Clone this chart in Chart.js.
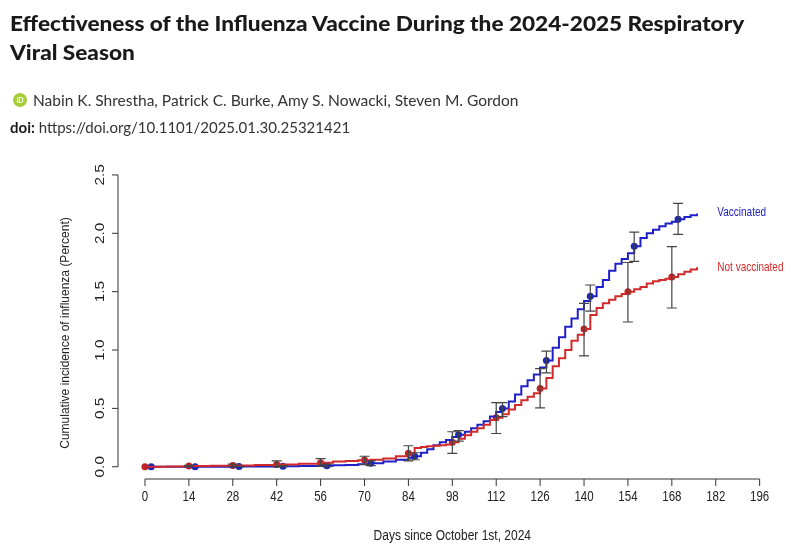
<!DOCTYPE html>
<html>
<head>
<meta charset="utf-8">
<script src="https://cdn.jsdelivr.net/npm/chart.js@4.4.1/dist/chart.umd.min.js"></script>
<style>
  body { margin: 0; width: 796px; height: 550px; overflow: hidden; position: relative; background: #fff; }
  #chart { position: absolute; left: 0; top: 0; }
  .hd { position: absolute; left: 10px; white-space: nowrap; color: #1a1a1a; font-family: Lato, sans-serif; transform-origin: 0 0; }
  #t1 { top: 11px; font-size: 20px; font-weight: 900; transform: scaleX(1.13); }
  #t2 { top: 40px; font-size: 20px; font-weight: 900; transform: scaleX(1.13); }
  #auth { top: 91px; left: 33px; font-size: 15px; color: #333; transform: scaleX(1.034); }
  #orcid { position: absolute; left: 13px; top: 93px; width: 14px; height: 14px; border-radius: 50%; background: #a6ce39;
           color: #fff; font: bold 7px Lato, sans-serif; text-align: center; line-height: 14px; }
  #doi { top: 118px; font-size: 15px; color: #333; }
  #doi b { color: #1a1a1a; }
</style>
</head>
<body>
<canvas id="chart" width="796" height="550"></canvas>
<div class="hd" id="t1">Effectiveness of the Influenza Vaccine During the 2024-2025 Respiratory</div>
<div class="hd" id="t2">Viral Season</div>
<div id="orcid">iD</div>
<div class="hd" id="auth">Nabin K. Shrestha, Patrick C. Burke, Amy S. Nowacki, Steven M. Gordon</div>
<div class="hd" id="doi"><b>doi:</b> https://doi.org/10.1101/2025.01.30.25321421</div>
<script>
// step curves (days since Oct 1st)
const lineDays = [0, 7, 14, 21, 28, 35, 42, 49, 56, 60, 64, 68, 72, 76, 80, 84,
  86, 88, 90, 92, 94, 96, 98, 100, 102, 104, 106, 108, 110, 112, 114, 116, 118, 120, 122, 124,
  126, 128, 130, 132, 134, 136, 138, 140, 142, 144, 146, 148, 150, 152, 154, 156, 158, 160, 162, 164,
  166, 168, 170, 172, 174, 176];
const vaccinated = [0, 0, 0, 0, 0.002, 0.003, 0.004, 0.006, 0.008, 0.012, 0.016, 0.022, 0.03, 0.045, 0.06, 0.078,
  0.09, 0.12, 0.15, 0.185, 0.21, 0.23, 0.255, 0.275, 0.3, 0.33, 0.36, 0.39, 0.43, 0.47, 0.5, 0.56, 0.62, 0.69, 0.74, 0.79,
  0.85, 0.91, 1.02, 1.11, 1.2, 1.27, 1.35, 1.42, 1.46, 1.54, 1.6, 1.68, 1.74, 1.78, 1.83, 1.89, 1.96, 2.0, 2.03, 2.06,
  2.085, 2.1, 2.12, 2.14, 2.155, 2.17];
const notVaccinated = [0, 0.003, 0.006, 0.008, 0.01, 0.015, 0.02, 0.025, 0.035, 0.045, 0.05, 0.055, 0.06, 0.07, 0.09, 0.115,
  0.16, 0.17, 0.175, 0.18, 0.185, 0.19, 0.21, 0.24, 0.27, 0.3, 0.33, 0.36, 0.4, 0.42, 0.45, 0.49, 0.53, 0.57, 0.6, 0.63,
  0.67, 0.76, 0.86, 0.93, 1.0, 1.08, 1.13, 1.18, 1.3, 1.36, 1.4, 1.43, 1.46, 1.48, 1.5, 1.52, 1.54, 1.57, 1.59, 1.6,
  1.61, 1.625, 1.65, 1.67, 1.69, 1.71];

// point estimates with 95% CI
const markDaysNV = [0, 14, 28, 42, 56, 70, 84, 98, 112, 126, 140, 154, 168];
const markNV = [0, 0.006, 0.01, 0.02, 0.035, 0.057, 0.115, 0.21, 0.42, 0.67, 1.18, 1.5, 1.625];
const loNV = [0, 0, 0, 0, 0.005, 0.02, 0.05, 0.115, 0.285, 0.505, 0.95, 1.24, 1.36];
const hiNV = [0, 0.012, 0.022, 0.05, 0.07, 0.09, 0.18, 0.3, 0.55, 0.84, 1.40, 1.75, 1.885];
const markDaysV = [2, 16, 30, 44, 58, 72, 86, 100, 114, 128, 142, 156, 170];
const markV = [0, 0, 0.002, 0.004, 0.008, 0.03, 0.09, 0.275, 0.5, 0.91, 1.46, 1.89, 2.12];
const loV = [0, 0, 0, 0, 0, 0.01, 0.06, 0.22, 0.43, 0.805, 1.334, 1.76, 1.99];
const hiV = [0, 0, 0.006, 0.01, 0.02, 0.05, 0.12, 0.31, 0.55, 0.99, 1.557, 2.01, 2.257];

const xTicks = [0, 14, 28, 42, 56, 70, 84, 98, 112, 126, 140, 154, 168, 182, 196];
const yTicks = [0, 0.5, 1.0, 1.5, 2.0, 2.5];

const blue = '#2020c8', red = '#d22a2a';
const pts = (xs, ys) => xs.map((x, i) => ({ x: x, y: ys[i] }));

// the source image is a bit taller than wide, so text is stretched vertically
function txt(ctx, s, x, y, rot, sy) {
  ctx.save();
  ctx.translate(x, y);
  ctx.scale(1, sy || 1.28);
  if (rot) ctx.rotate(-Math.PI / 2);
  ctx.fillText(s, 0, 0);
  ctx.restore();
}

// R-style detached axes, CI bars, end labels
const rAxes = {
  id: 'rAxes',
  afterDatasetsDraw(chart) {
    const ctx = chart.ctx, sx = chart.scales.x, sy = chart.scales.y;
    ctx.save();
    ctx.strokeStyle = '#444';
    ctx.lineWidth = 1.2;
    const bars = [[markDaysNV, loNV, hiNV], [markDaysV, loV, hiV]];
    bars.forEach(([ds, lo, hi]) => {
      ds.forEach((d, i) => {
        if (hi[i] - lo[i] < 0.004) return;
        const x = sx.getPixelForValue(d), y1 = sy.getPixelForValue(lo[i]), y2 = sy.getPixelForValue(hi[i]);
        ctx.beginPath();
        ctx.moveTo(x, y1); ctx.lineTo(x, y2);
        ctx.moveTo(x - 5, y1); ctx.lineTo(x + 5, y1);
        ctx.moveTo(x - 5, y2); ctx.lineTo(x + 5, y2);
        ctx.stroke();
      });
    });
    ctx.restore();
  },
  afterDraw(chart) {
    const ctx = chart.ctx, sx = chart.scales.x, sy = chart.scales.y, a = chart.chartArea;
    ctx.save();
    ctx.strokeStyle = '#333';
    ctx.fillStyle = '#222';
    ctx.lineWidth = 1;
    ctx.textAlign = 'center'; ctx.textBaseline = 'middle';
    // x axis
    const yb = a.bottom;
    ctx.beginPath();
    ctx.moveTo(sx.getPixelForValue(xTicks[0]), yb);
    ctx.lineTo(sx.getPixelForValue(xTicks[xTicks.length - 1]), yb);
    xTicks.forEach(t => { const x = sx.getPixelForValue(t); ctx.moveTo(x, yb); ctx.lineTo(x, yb + 7); });
    ctx.stroke();
    ctx.font = '11.5px "Liberation Sans", Arial, sans-serif';
    xTicks.forEach(t => txt(ctx, String(t), sx.getPixelForValue(t), yb + 17.5));
    ctx.font = '12px "Liberation Sans", Arial, sans-serif';
    txt(ctx, 'Days since October 1st, 2024', (sx.getPixelForValue(0) + sx.getPixelForValue(196)) / 2, 535.5);
    // y axis
    const xl = a.left;
    ctx.beginPath();
    ctx.moveTo(xl, sy.getPixelForValue(yTicks[0]));
    ctx.lineTo(xl, sy.getPixelForValue(yTicks[yTicks.length - 1]));
    yTicks.forEach(t => { const y = sy.getPixelForValue(t); ctx.moveTo(xl, y); ctx.lineTo(xl - 6, y); });
    ctx.stroke();
    ctx.font = '12px "Liberation Sans", Arial, sans-serif';
    yTicks.forEach(t => txt(ctx, t.toFixed(1), xl - 17.5, sy.getPixelForValue(t), true));
    ctx.font = '12px "Liberation Sans", Arial, sans-serif';
    txt(ctx, 'Cumulative incidence of influenza (Percent)', 66, 333, true, 1);
    // curve labels
    ctx.font = '10px "Liberation Sans", Arial, sans-serif';
    ctx.textAlign = 'left';
    ctx.fillStyle = blue;
    txt(ctx, 'Vaccinated', sx.getPixelForValue(182.5), sy.getPixelForValue(vaccinated[vaccinated.length - 1]) - 0.5);
    ctx.fillStyle = red;
    txt(ctx, 'Not vaccinated', sx.getPixelForValue(182.5), sy.getPixelForValue(notVaccinated[notVaccinated.length - 1]) + 0.5);
    ctx.restore();
  }
};

new Chart(document.getElementById('chart'), {
  type: 'line',
  data: {
    datasets: [
      { label: 'Not vaccinated', data: pts(lineDays, notVaccinated), borderColor: red, borderWidth: 2, stepped: true, pointRadius: 0, fill: false },
      { label: 'Vaccinated', data: pts(lineDays, vaccinated), borderColor: blue, borderWidth: 2, stepped: true, pointRadius: 0, fill: false },
      { label: 'NV est', data: pts(markDaysNV, markNV), showLine: false, pointRadius: 3.5, pointBackgroundColor: '#c02424', pointBorderColor: '#c02424', borderWidth: 0 },
      { label: 'V est', data: pts(markDaysV, markV), showLine: false, pointRadius: 3.5, pointBackgroundColor: '#1a28b8', pointBorderColor: '#1a28b8', borderWidth: 0 }
    ]
  },
  options: {
    responsive: false,
    animation: false,
    layout: { padding: { left: 118, right: 23.8, top: 169.1, bottom: 71 } },
    plugins: { legend: { display: false }, tooltip: { enabled: false } },
    scales: {
      x: { type: 'linear', min: -8.6, max: 200, display: false },
      y: { min: -0.105, max: 2.55, display: false }
    }
  },
  plugins: [rAxes]
});
</script>
</body>
</html>
